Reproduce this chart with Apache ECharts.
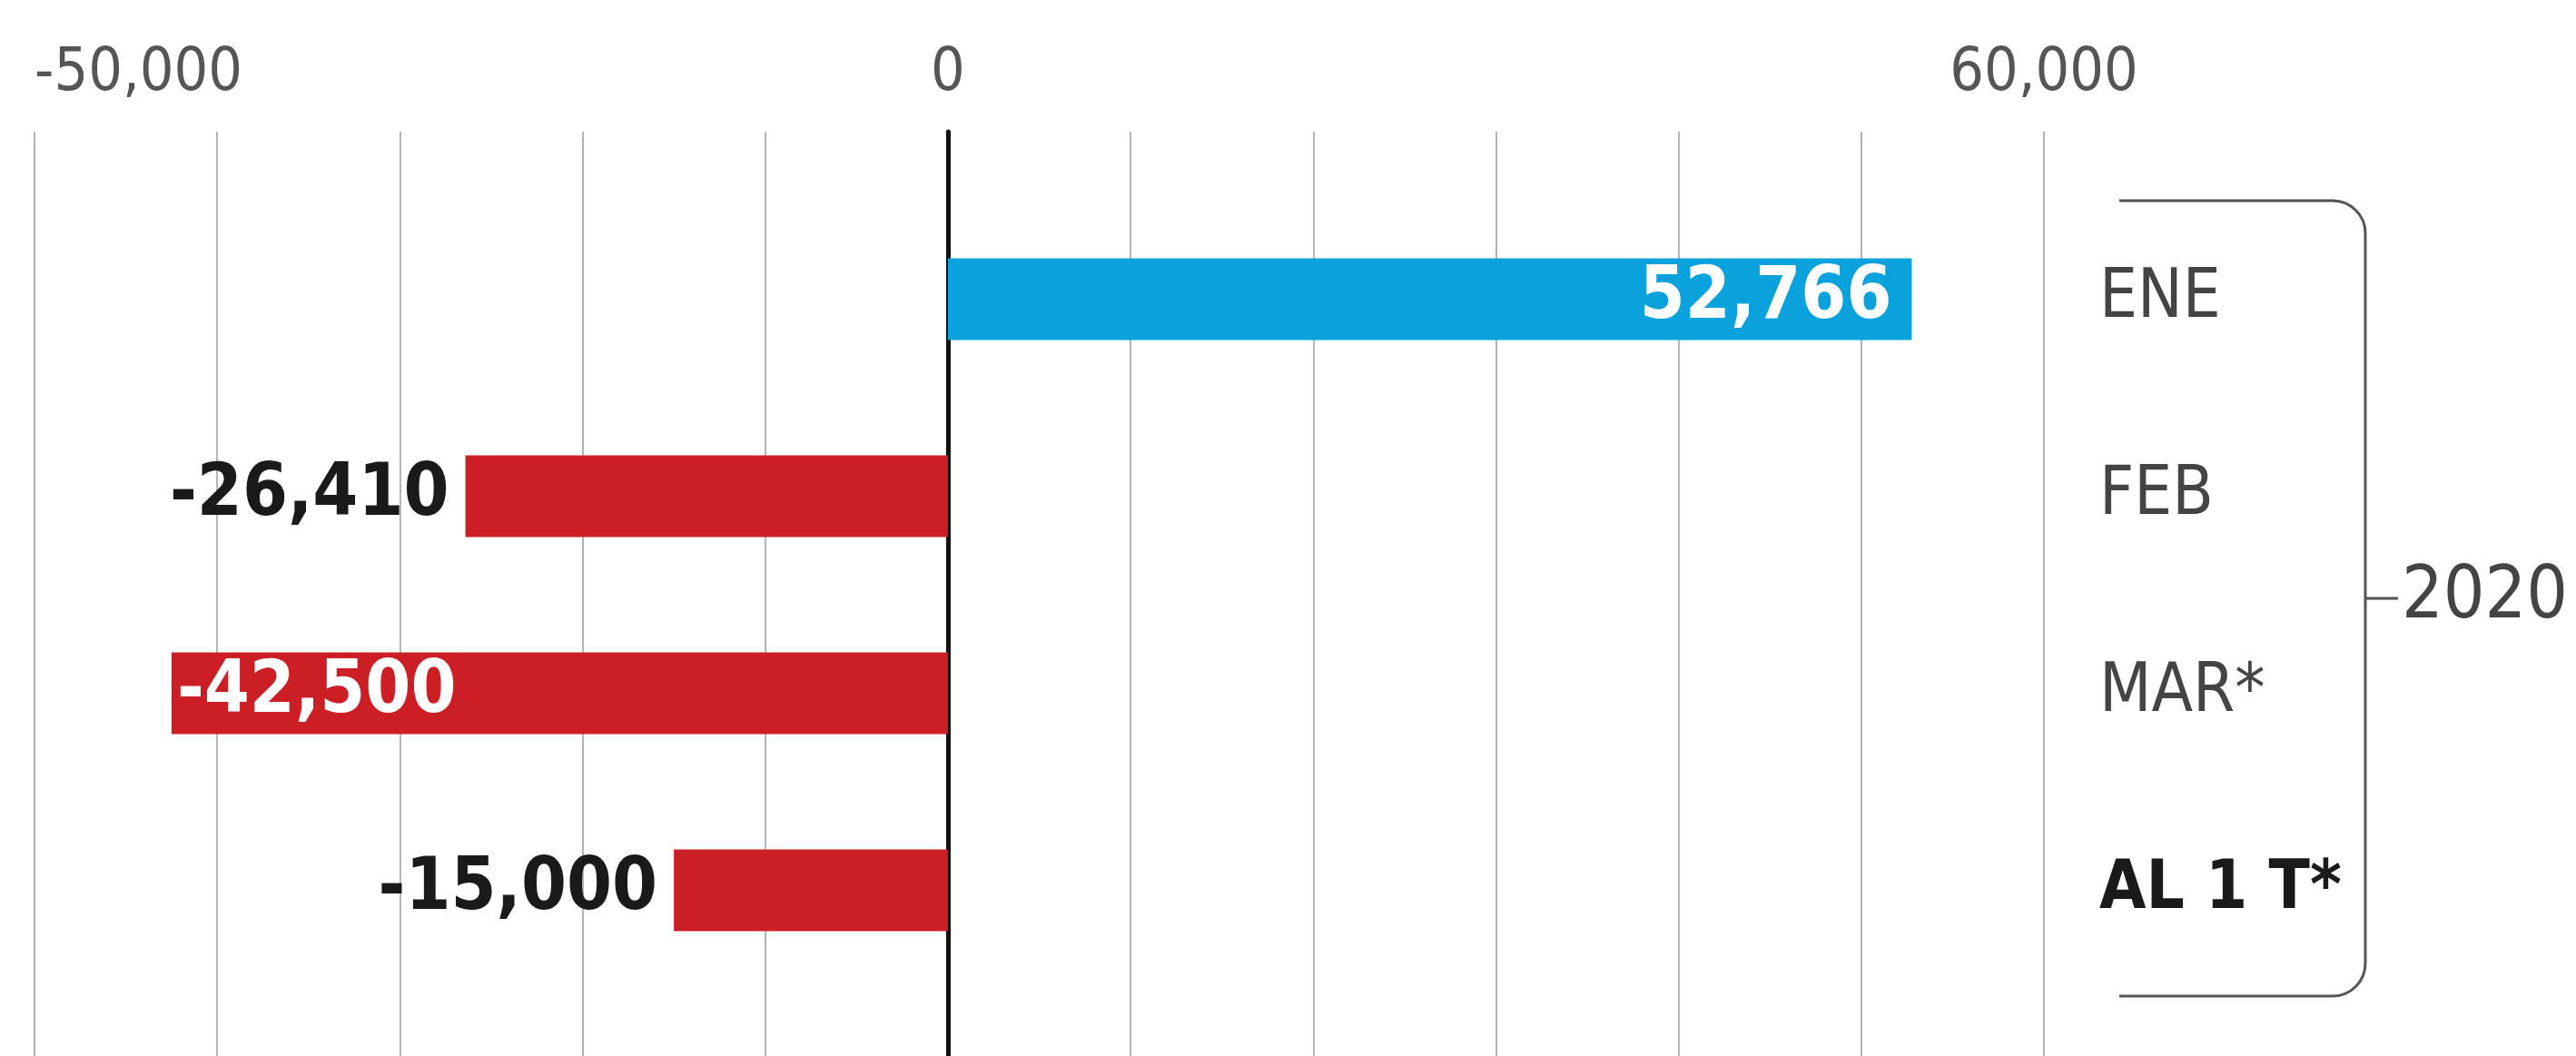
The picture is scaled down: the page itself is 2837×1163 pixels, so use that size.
<!DOCTYPE html>
<html>
<head>
<meta charset="utf-8">
<script src="https://cdn.jsdelivr.net/npm/echarts@6/dist/echarts.min.js"></script>
<style>
html,body{margin:0;padding:0;background:#fff;}
#chart{width:2837px;height:1163px;}
</style>
</head>
<body>
<div id="chart"></div>
<script>
// ---- data ----
const categories = ['ENE', 'FEB', 'MAR*', 'AL 1 T*'];
const values = [52766, -26410, -42500, -15000];
const shownTicks = [-50000, 0, 60000];
const groupLabel = '2020';

// ---- layout ----
const W = 2837, H = 1163;
const LEFT = 38, RIGHT = 586;
const BAR_TOP = 221, BAR_BOTTOM = 74;
const LINE_TOP = 145;
const NARROW = '"Liberation Sans Narrow","DejaVu Sans Condensed","Roboto",sans-serif';

const fmt = v => v.toLocaleString('en-US');

const barData = values.map(v => {
  const inside = Math.abs(v) > 40000;
  return {
    value: v,
    itemStyle: { color: v >= 0 ? '#0aa2dd' : '#cc1e25' },
    label: {
      position: inside ? (v >= 0 ? 'insideRight' : 'insideLeft') : (v >= 0 ? 'right' : 'left'),
      color: inside ? '#ffffff' : '#1a1a1a',
      distance: inside ? (v >= 0 ? 22 : 6) : 18
    }
  };
});

const chart = echarts.init(document.getElementById('chart'));

const bx0 = 2334, bx1 = 2605, r = 36;
const by0 = BAR_TOP, by1 = H - BAR_BOTTOM + 8;
const bmid = (by0 + by1) / 2;
const bStyle = { stroke: '#555555', lineWidth: 3, fill: null };

chart.setOption({
  backgroundColor: '#ffffff',
  animation: false,
  grid: [
    { left: LEFT, right: RIGHT, top: BAR_TOP, bottom: BAR_BOTTOM },
    { left: LEFT, right: RIGHT, top: LINE_TOP, bottom: 0 }
  ],
  xAxis: [
    {
      gridIndex: 0, type: 'value', min: -50000, max: 60000, interval: 10000,
      axisLine: { show: false }, axisTick: { show: false },
      axisLabel: { show: false }, splitLine: { show: false }
    },
    {
      gridIndex: 1, type: 'value', min: -50000, max: 60000, interval: 10000,
      position: 'top',
      axisLine: { show: false }, axisTick: { show: false },
      axisLabel: {
        show: true, margin: 30,
        fontFamily: NARROW, fontSize: 66, color: '#555555', fontWeight: 'normal',
        alignMinLabel: 'left',
        formatter: v => shownTicks.includes(v) ? fmt(v) : ''
      },
      splitLine: { show: true, lineStyle: { color: '#b4b4b4', width: 2 } }
    }
  ],
  yAxis: [
    {
      gridIndex: 0, type: 'category', data: categories, inverse: true,
      position: 'right',
      axisLine: { show: false }, axisTick: { show: false }, splitLine: { show: false },
      axisLabel: {
        margin: 61, align: 'left',
        formatter: (v, i) => i === categories.length - 1 ? '{b|' + v + '}' : '{n|' + v + '}',
        rich: {
          n: { fontFamily: NARROW, fontSize: 74, color: '#444444', fontWeight: 'normal' },
          b: { fontFamily: NARROW, fontSize: 74, color: '#1a1a1a', fontWeight: 'bold' }
        }
      }
    },
    {
      gridIndex: 1, type: 'category', data: [''],
      axisLine: { show: true, onZero: true, lineStyle: { color: '#111111', width: 5 } },
      axisTick: { show: false }, axisLabel: { show: false }, splitLine: { show: false }
    }
  ],
  series: [
    {
      type: 'bar', xAxisIndex: 0, yAxisIndex: 0,
      data: barData, barWidth: 90,
      label: {
        show: true, fontFamily: NARROW, fontSize: 80, fontWeight: 'bold',
        formatter: p => fmt(p.value)
      },
      z: 5
    }
  ],
  graphic: [
    { type: 'line', silent: true, shape: { x1: bx0, y1: by0, x2: bx1 - r, y2: by0 }, style: bStyle },
    { type: 'arc', silent: true, shape: { cx: bx1 - r, cy: by0 + r, r: r, startAngle: -Math.PI / 2, endAngle: 0, clockwise: true }, style: bStyle },
    { type: 'line', silent: true, shape: { x1: bx1, y1: by0 + r, x2: bx1, y2: by1 - r }, style: bStyle },
    { type: 'arc', silent: true, shape: { cx: bx1 - r, cy: by1 - r, r: r, startAngle: 0, endAngle: Math.PI / 2, clockwise: true }, style: bStyle },
    { type: 'line', silent: true, shape: { x1: bx1 - r, y1: by1, x2: bx0, y2: by1 }, style: bStyle },
    { type: 'line', silent: true, shape: { x1: bx1, y1: bmid, x2: bx1 + 36, y2: bmid }, style: bStyle },
    {
      type: 'text', silent: true,
      x: bx1 + 40, y: bmid,
      style: {
        text: groupLabel, fontFamily: NARROW, fontSize: 80, fill: '#444444',
        verticalAlign: 'middle', align: 'left'
      }
    }
  ]
});
</script>
</body>
</html>
